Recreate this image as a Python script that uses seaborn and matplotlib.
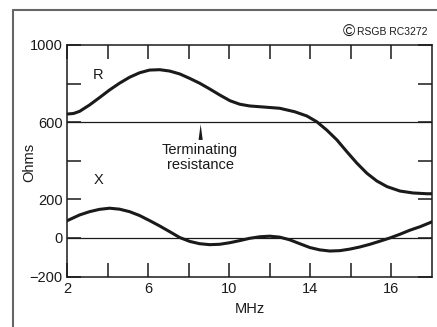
import numpy as np
import pandas as pd
import matplotlib
matplotlib.use("Agg")
import matplotlib.pyplot as plt
from matplotlib.lines import Line2D
import seaborn as sns

# Data
freq_r = [2.0, 2.32, 2.62, 3.11, 3.60, 4.10, 4.59, 5.09, 5.58, 6.07, 6.57,
          7.06, 7.56, 8.05, 8.54, 9.04, 9.53, 10.04, 10.52, 11.01, 11.51,
          12.49, 13.23, 13.83, 14.32, 14.81, 15.31, 15.80, 16.30, 16.79,
          17.28, 17.78, 18.42, 19.06, 19.75, 20.0]
r_ohms = [642, 645, 656, 689, 727, 767, 802, 833, 856, 870, 872,
          865, 850, 827, 802, 772, 741, 711, 693, 684, 680,
          672, 654, 632, 602, 559, 508, 447, 387, 335,
          295, 266, 243, 233, 229, 229]

freq_x = [2.0, 2.62, 3.11, 3.60, 4.10, 4.59, 5.09, 5.58, 6.07, 6.57, 7.07,
          7.56, 8.05, 8.54, 9.04, 9.53, 10.02, 10.52, 11.01, 11.51, 12.0,
          12.49, 12.99, 13.48, 13.98, 14.47, 14.96, 15.46, 15.95, 16.44,
          16.94, 17.43, 17.93, 18.42, 18.91, 19.41, 19.90, 20.0]
x_ohms = [89, 119, 136, 148, 154, 149, 136, 116, 90, 62, 32,
          2, -18, -30, -35, -33, -25, -14, -2, 6, 9,
          4, -10, -30, -50, -62, -68, -66, -58, -47,
          -33, -17, 0, 19, 40, 58, 79, 84]

x_tick_pos = [2, 4, 6, 8, 10, 12, 14, 16, 18]
x_tick_labels = ["2", "", "6", "", "10", "", "14", "", "16"]
y_tick_pos = [-200, 0, 200, 400, 600, 800, 1000]
y_tick_labels = ["\u2212200", "0", "200", "", "600", "", "1000"]
terminating = 600

sns.set_style("white")
plt.rcParams["font.family"] = ["Liberation Sans", "DejaVu Sans"]

fig = plt.figure(figsize=(4.37, 3.27), dpi=100)
ax = fig.add_axes([67 / 437, 1 - 276.5 / 327, 365 / 437, 231.5 / 327])

df_r = pd.DataFrame({"MHz": freq_r, "Ohms": r_ohms})
df_x = pd.DataFrame({"MHz": freq_x, "Ohms": x_ohms})
sns.lineplot(data=df_r, x="MHz", y="Ohms", ax=ax, color="#1a1a1a", lw=2.2)
sns.lineplot(data=df_x, x="MHz", y="Ohms", ax=ax, color="#1a1a1a", lw=2.2)

ax.axhline(terminating, color="#1a1a1a", lw=0.9)
ax.axhline(0, color="#1a1a1a", lw=0.9)

ax.set_xlim(2, 20)
ax.set_ylim(-200, 1000)
ax.set_xticks(x_tick_pos)
ax.set_xticklabels(x_tick_labels)
ax.set_yticks(y_tick_pos)
ax.set_yticklabels(y_tick_labels)
ax.tick_params(axis="both", direction="in", length=10, width=1.1,
               color="#1a1a1a", labelsize=10.5, labelcolor="#1a1a1a")
ax.tick_params(axis="x", top=True, bottom=True, pad=4)
ax.tick_params(axis="y", left=True, right=True, pad=3)
for s in ax.spines.values():
    s.set_linewidth(1.1)
    s.set_color("#1a1a1a")

ax.set_xlabel("MHz", fontsize=10.5, color="#1a1a1a", labelpad=4)
ax.set_ylabel("Ohms", fontsize=10.5, color="#1a1a1a")
ax.yaxis.set_label_coords((36 - 67) / 365, (276.5 - 162) / 231.5)

ax.text(3.53, 844, "R", fontsize=10.5, ha="center", va="center", color="#1a1a1a")
ax.text(3.58, 299, "X", fontsize=10.5, ha="center", va="center", color="#1a1a1a")
ax.text(8.56, 418, "Terminating\nresistance", fontsize=10.5, ha="center",
        va="center", linespacing=1.05, color="#1a1a1a")
ax.annotate("", xy=(8.59, 589), xytext=(8.59, 508),
            arrowprops=dict(arrowstyle="wedge,tail_width=0.3,shrink_factor=0.5",
                            color="#1a1a1a", lw=0, shrinkA=0, shrinkB=0))

# outer frame
fig.add_artist(Line2D([13 / 437, 13 / 437], [0, 1 - 10 / 327],
                      transform=fig.transFigure, color="#666666", lw=1.5))
fig.add_artist(Line2D([13 / 437, 1], [1 - 10 / 327, 1 - 10 / 327],
                      transform=fig.transFigure, color="#666666", lw=1.5))
fig.text(343 / 437, 1 - 32 / 327, "\u00a9", fontsize=12, ha="left", va="center",
         color="#1a1a1a")
fig.text(357 / 437, 1 - 32 / 327, "RSGB RC3272", fontsize=7.5, ha="left",
         va="center", color="#1a1a1a")

fig.savefig("out.png", dpi=100)
